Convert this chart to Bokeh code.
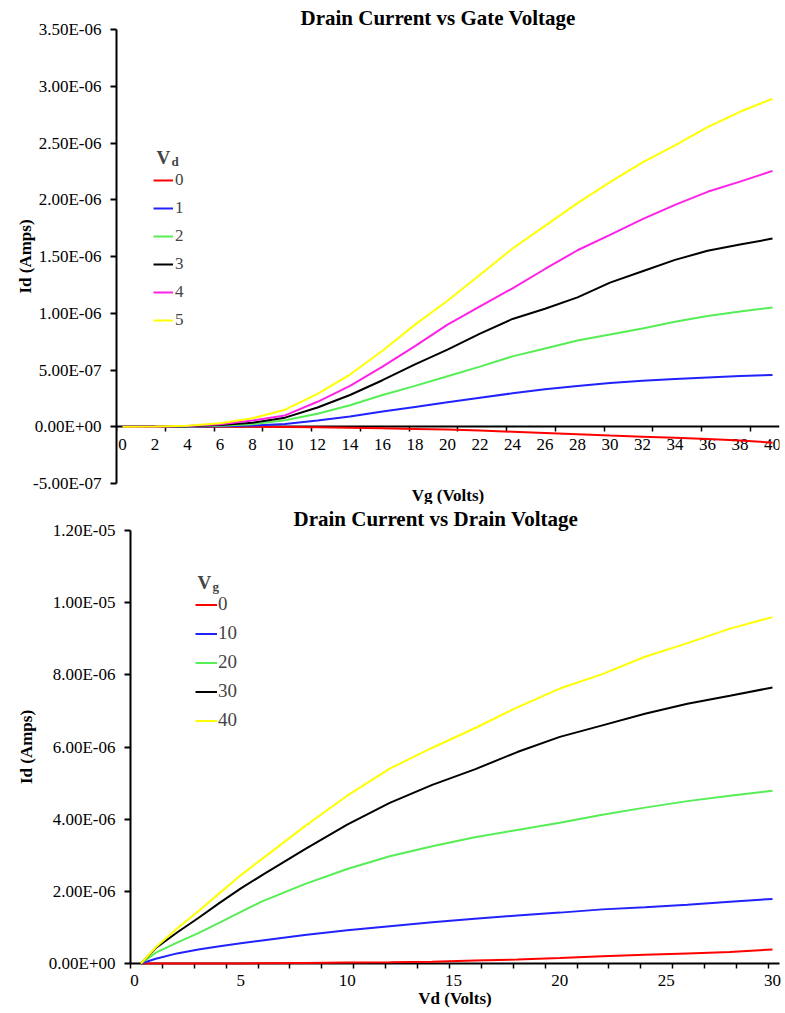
from bokeh.plotting import figure
from bokeh.layouts import column, row
from bokeh.models import Range1d, FixedTicker, Legend, LegendItem, Label, Title
from bokeh.embed import file_html
from bokeh.resources import INLINE

FONT = "Liberation Serif"

# ---------------- Top chart: Id vs Vg (values in microamps) ----------------
vg = [0, 2, 4, 6, 8, 10, 12, 14, 16, 18, 20, 22, 24, 26, 28, 30, 32, 34, 36, 38, 40]
id_vd0 = [0, 0, 0, 0, 0, -0.002, -0.005, -0.008, -0.013, -0.019, -0.025, -0.034, -0.044,
          -0.054, -0.066, -0.078, -0.088, -0.098, -0.108, -0.122, -0.14]
id_vd1 = [0, 0, 0.001, 0.004, 0.01, 0.025, 0.055, 0.09, 0.135, 0.175, 0.215, 0.255, 0.295,
          0.33, 0.36, 0.385, 0.405, 0.42, 0.435, 0.447, 0.456]
id_vd2 = [0, 0, 0.003, 0.009, 0.022, 0.057, 0.115, 0.19, 0.28, 0.36, 0.445, 0.53, 0.62,
          0.69, 0.76, 0.812, 0.866, 0.925, 0.975, 1.015, 1.05]
id_vd3 = [0, 0.001, 0.004, 0.015, 0.035, 0.08, 0.17, 0.28, 0.41, 0.55, 0.68, 0.82, 0.95,
          1.04, 1.14, 1.27, 1.37, 1.47, 1.55, 1.605, 1.658]
id_vd4 = [0, 0.001, 0.006, 0.022, 0.055, 0.10, 0.22, 0.36, 0.53, 0.71, 0.90, 1.06, 1.22,
          1.39, 1.555, 1.69, 1.83, 1.955, 2.07, 2.16, 2.254]
id_vd5 = [0, 0.002, 0.008, 0.03, 0.075, 0.15, 0.29, 0.46, 0.67, 0.90, 1.11, 1.34, 1.57,
          1.77, 1.97, 2.155, 2.33, 2.48, 2.64, 2.775, 2.89]
vd_series = [id_vd0, id_vd1, id_vd2, id_vd3, id_vd4, id_vd5]
vd_names = ["0", "1", "2", "3", "4", "5"]

top_y_ticks = [-5e-7, 0, 5e-7, 1e-6, 1.5e-6, 2e-6, 2.5e-6, 3e-6, 3.5e-6]
top_y_labels = ["-5.00E-07", "0.00E+00", "5.00E-07", "1.00E-06", "1.50E-06",
                "2.00E-06", "2.50E-06", "3.00E-06", "3.50E-06"]
top_x_ticks = [0, 2, 4, 6, 8, 10, 12, 14, 16, 18, 20, 22, 24, 26, 28, 30, 32, 34, 36, 38, 40]
top_x_marks = [-0.37 + 3 * k for k in range(14)]

# ---------------- Bottom chart: Id vs Vd (values in microamps) ----------------
vd = [0.3, 1, 2, 3, 4, 5, 6, 8, 10, 12, 14, 16, 18, 20, 22, 24, 26, 28, 30]
id_vg0 = [0, 0, 0, 0, 0, 0.002, 0.005, 0.015, 0.025, 0.035, 0.05, 0.08, 0.11, 0.15, 0.20,
          0.24, 0.28, 0.32, 0.39]
id_vg10 = [0, 0.13, 0.28, 0.39, 0.48, 0.56, 0.64, 0.79, 0.92, 1.03, 1.14, 1.24, 1.33, 1.41,
           1.50, 1.56, 1.63, 1.71, 1.79]
id_vg20 = [0, 0.30, 0.58, 0.84, 1.13, 1.43, 1.72, 2.20, 2.62, 2.97, 3.25, 3.50, 3.70, 3.90,
           4.12, 4.32, 4.50, 4.65, 4.79]
id_vg30 = [0, 0.43, 0.86, 1.26, 1.68, 2.08, 2.45, 3.16, 3.85, 4.45, 4.95, 5.38, 5.86, 6.28,
           6.60, 6.92, 7.20, 7.42, 7.65]
id_vg40 = [0, 0.45, 0.97, 1.45, 1.95, 2.45, 2.90, 3.80, 4.65, 5.40, 5.98, 6.52, 7.10, 7.62,
           8.02, 8.50, 8.88, 9.28, 9.60]
vg_series = [id_vg0, id_vg10, id_vg20, id_vg30, id_vg40]
vg_names = ["0", "10", "20", "30", "40"]

bot_y_ticks = [0, 2e-6, 4e-6, 6e-6, 8e-6, 1e-5, 1.2e-5]
bot_y_labels = ["0.00E+00", "2.00E-06", "4.00E-06", "6.00E-06", "8.00E-06",
                "1.00E-05", "1.20E-05"]
bot_x_ticks = [0, 5, 10, 15, 20, 25, 30]
bot_x_marks = [-0.19 + 1.5 * k for k in range(21)]

colors6 = ["#ff0000", "#2222ff", "#55ee55", "#000000", "#ff22e6", "#ffff00"]
colors5 = ["#ff0000", "#2222ff", "#55ee55", "#000000", "#ffff00"]


def style_common(p):
    p.grid.visible = False
    p.outline_line_color = None
    p.background_fill_color = "white"
    p.border_fill_color = "white"
    p.title.text_font = FONT
    p.title.text_font_size = "21px"
    p.title.text_font_style = "bold"
    p.title.text_color = "black"
    p.title.align = "left"
    p.title.standoff = 0
    for ax in (p.xaxis[0], p.yaxis[0]):
        ax.axis_line_width = 2
        ax.axis_line_color = "black"
        ax.major_label_text_font = FONT
        ax.major_label_text_color = "black"
        ax.axis_label_text_font = FONT
        ax.axis_label_text_font_style = "bold"
        ax.axis_label_text_color = "black"
    ya = p.yaxis[0]
    ya.major_tick_out = 6
    ya.major_tick_in = 0
    ya.major_tick_line_width = 2
    ya.minor_tick_out = 0
    ya.minor_tick_in = 0
    ya.major_label_standoff = 9
    ya.major_label_text_font_size = "17px"
    ya.axis_label_text_font_size = "17px"
    xa = p.xaxis[0]
    xa.major_tick_out = 0
    xa.major_tick_in = 0
    xa.minor_tick_out = 5
    xa.minor_tick_in = 0
    xa.minor_tick_line_width = 1.5
    xa.minor_tick_line_color = "black"
    xa.major_label_text_font_size = "17px"
    xa.axis_label_text_font_size = "17px"


# ---------------- Top figure ----------------
p1 = figure(width=785, height=504, x_range=Range1d(-0.37, 40.43),
            y_range=Range1d(-5e-7, 3.5e-6), output_backend="svg",
            toolbar_location=None, min_border_left=116, min_border_right=6,
            min_border_top=29, min_border_bottom=20,
            title="Drain Current vs Gate Voltage")
style_common(p1)
p1.title.offset = 184
p1.xaxis.fixed_location = 0
p1.xaxis.ticker = FixedTicker(ticks=top_x_ticks, minor_ticks=top_x_marks)
p1.xaxis.major_label_standoff = 7
p1.yaxis.ticker = FixedTicker(ticks=top_y_ticks)
p1.yaxis.major_label_overrides = {t: s for t, s in zip(top_y_ticks, top_y_labels)}
p1.yaxis.axis_label = "Id (Amps)"
p1.yaxis.axis_label_standoff = -5
p1.add_layout(Title(text="Vg (Volts)", align="center", standoff=0,
                    text_font=FONT, text_font_size="17px", text_font_style="bold",
                    text_color="black"), "below")

items1 = []
for name, ser, col in zip(vd_names, vd_series, colors6):
    r = p1.line(vg, [v * 1e-6 for v in ser], line_color=col, line_width=2, level="overlay")
    items1.append(LegendItem(label=name, renderers=[r]))
leg1 = Legend(items=items1, location=(37, 153), glyph_width=20, glyph_height=20,
              label_height=20, label_standoff=2, spacing=8, padding=0, margin=0,
              border_line_color=None, background_fill_alpha=0,
              label_text_font=FONT, label_text_font_size="17px")
p1.add_layout(leg1)
p1.add_layout(Label(x=40, y=326, x_units="screen", y_units="screen", text="V",
                    text_font=FONT, text_font_style="bold", text_font_size="19px",
                    text_baseline="alphabetic"))
p1.add_layout(Label(x=55, y=322, x_units="screen", y_units="screen", text="d",
                    text_font=FONT, text_font_style="bold", text_font_size="13px",
                    text_baseline="alphabetic"))

# ---------------- Bottom figure ----------------
p2 = figure(width=785, height=509, x_range=Range1d(-0.19, 30.33),
            y_range=Range1d(0, 1.2e-5), output_backend="svg",
            toolbar_location=None, min_border_left=130, min_border_right=6,
            min_border_top=25, min_border_bottom=50,
            title="Drain Current vs Drain Voltage")
style_common(p2)
p2.title.offset = 163
p2.xaxis.ticker = FixedTicker(ticks=bot_x_ticks, minor_ticks=bot_x_marks)
p2.xaxis.major_label_standoff = 6
p2.xaxis.axis_label = "Vd (Volts)"
p2.xaxis.axis_label_standoff = 0
p2.yaxis.ticker = FixedTicker(ticks=bot_y_ticks)
p2.yaxis.major_label_overrides = {t: s for t, s in zip(bot_y_ticks, bot_y_labels)}
p2.yaxis.axis_label = "Id (Amps)"
p2.yaxis.axis_label_standoff = 10

items2 = []
for name, ser, col in zip(vg_names, vg_series, colors5):
    r = p2.line(vd, [v * 1e-6 for v in ser], line_color=col, line_width=2, level="overlay")
    items2.append(LegendItem(label=name, renderers=[r]))
leg2 = Legend(items=items2, location=(65, 232), glyph_width=22, glyph_height=21,
              label_height=21, label_standoff=1, spacing=7, padding=0, margin=0,
              border_line_color=None, background_fill_alpha=0,
              label_text_font=FONT, label_text_font_size="19px")
p2.add_layout(leg2)
p2.add_layout(Label(x=67, y=381, x_units="screen", y_units="screen", text="V",
                    text_font=FONT, text_font_style="bold", text_font_size="19px",
                    text_baseline="alphabetic"))
p2.add_layout(Label(x=82, y=377, x_units="screen", y_units="screen", text="g",
                    text_font=FONT, text_font_style="bold", text_font_size="13px",
                    text_baseline="alphabetic"))

layout = column(row(p1), row(p2), spacing=0)
open("out.html", "w").write(file_html(layout, INLINE))
